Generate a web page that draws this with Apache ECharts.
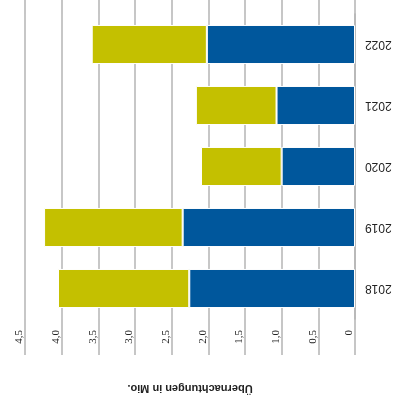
<!DOCTYPE html>
<html>
<head>
<meta charset="utf-8">
<script src="https://cdn.jsdelivr.net/npm/echarts@6/dist/echarts.min.js"></script>
<style>
  html, body { margin: 0; padding: 0; background: #fff; }
  #chart { width: 417px; height: 403px; }
</style>
</head>
<body>
<div id="chart"></div>
<script>
// categories and values (Mio. Übernachtungen)
var years = ["2018", "2019", "2020", "2021", "2022"];
var blueValues = [2.26, 2.35, 1.0, 1.07, 2.02];
var yellowValues = [1.79, 1.89, 1.1, 1.1, 1.57];
var tickLabels = ["0", "0,5", "1,0", "1,5", "2,0", "2,5", "3,0", "3,5", "4,0", "4,5"];
var axisTitle = "Übernachtungen in Mio.";

var gridColor = "#b4b4b4";
var myChart = echarts.init(document.getElementById("chart"));

var option = {
  animation: false,
  grid: {
    left: 25,
    right: 62,
    top: 14,
    bottom: 84,
  },
  xAxis: [
    {
      type: "value",
      min: 0,
      max: 4.5,
      interval: 0.5,
      inverse: true,
      position: "bottom",
      axisLine: { show: false },
      axisTick: {
        // long ticks, the grid lines run through the label row
        show: true,
        length: 36,
        lineStyle: { color: gridColor, width: 1.5 },
      },
      splitLine: {
        show: true,
        lineStyle: { color: gridColor, width: 1.5 },
      },
      axisLabel: {
        rotate: 90,
        margin: 11,
        verticalAlign: "bottom",
        fontFamily: "Liberation Sans Narrow",
        fontSize: 11,
        color: "#222",
        formatter: function (v) {
          return tickLabels[Math.round(v / 0.5)];
        },
      },
    },
    {
      // only for the short line stubs above the plot
      type: "value",
      min: 0,
      max: 4.5,
      interval: 0.5,
      inverse: true,
      position: "top",
      axisLine: { show: false },
      axisTick: {
        show: true,
        length: 14,
        lineStyle: { color: gridColor, width: 1.5 },
      },
      splitLine: { show: false },
      axisLabel: { show: false },
    },
  ],
  yAxis: {
    type: "category",
    data: years,
    position: "right",
    axisLine: { show: true, lineStyle: { color: gridColor, width: 1.5 } },
    axisTick: { show: false },
    axisLabel: {
      rotate: 180,
      margin: 10,
      fontFamily: "Liberation Sans",
      fontSize: 12,
      color: "#222",
    },
  },
  graphic: [
    {
      type: "text",
      x: 190,
      y: 388,
      rotation: Math.PI,
      style: {
        text: axisTitle,
        align: "center",
        verticalAlign: "middle",
        font: "bold 11px 'Liberation Sans'",
        fill: "#222",
      },
    },
  ],
  series: [
    {
      name: "blue",
      type: "bar",
      stack: "total",
      barCategoryGap: "36%",
      data: blueValues,
      itemStyle: { color: "#00579c", borderColor: "#fff", borderWidth: 1 },
    },
    {
      name: "yellow",
      type: "bar",
      stack: "total",
      data: yellowValues,
      itemStyle: { color: "#c4c000", borderColor: "#fff", borderWidth: 1 },
    },
  ],
};
myChart.setOption(option);
</script>
</body>
</html>
